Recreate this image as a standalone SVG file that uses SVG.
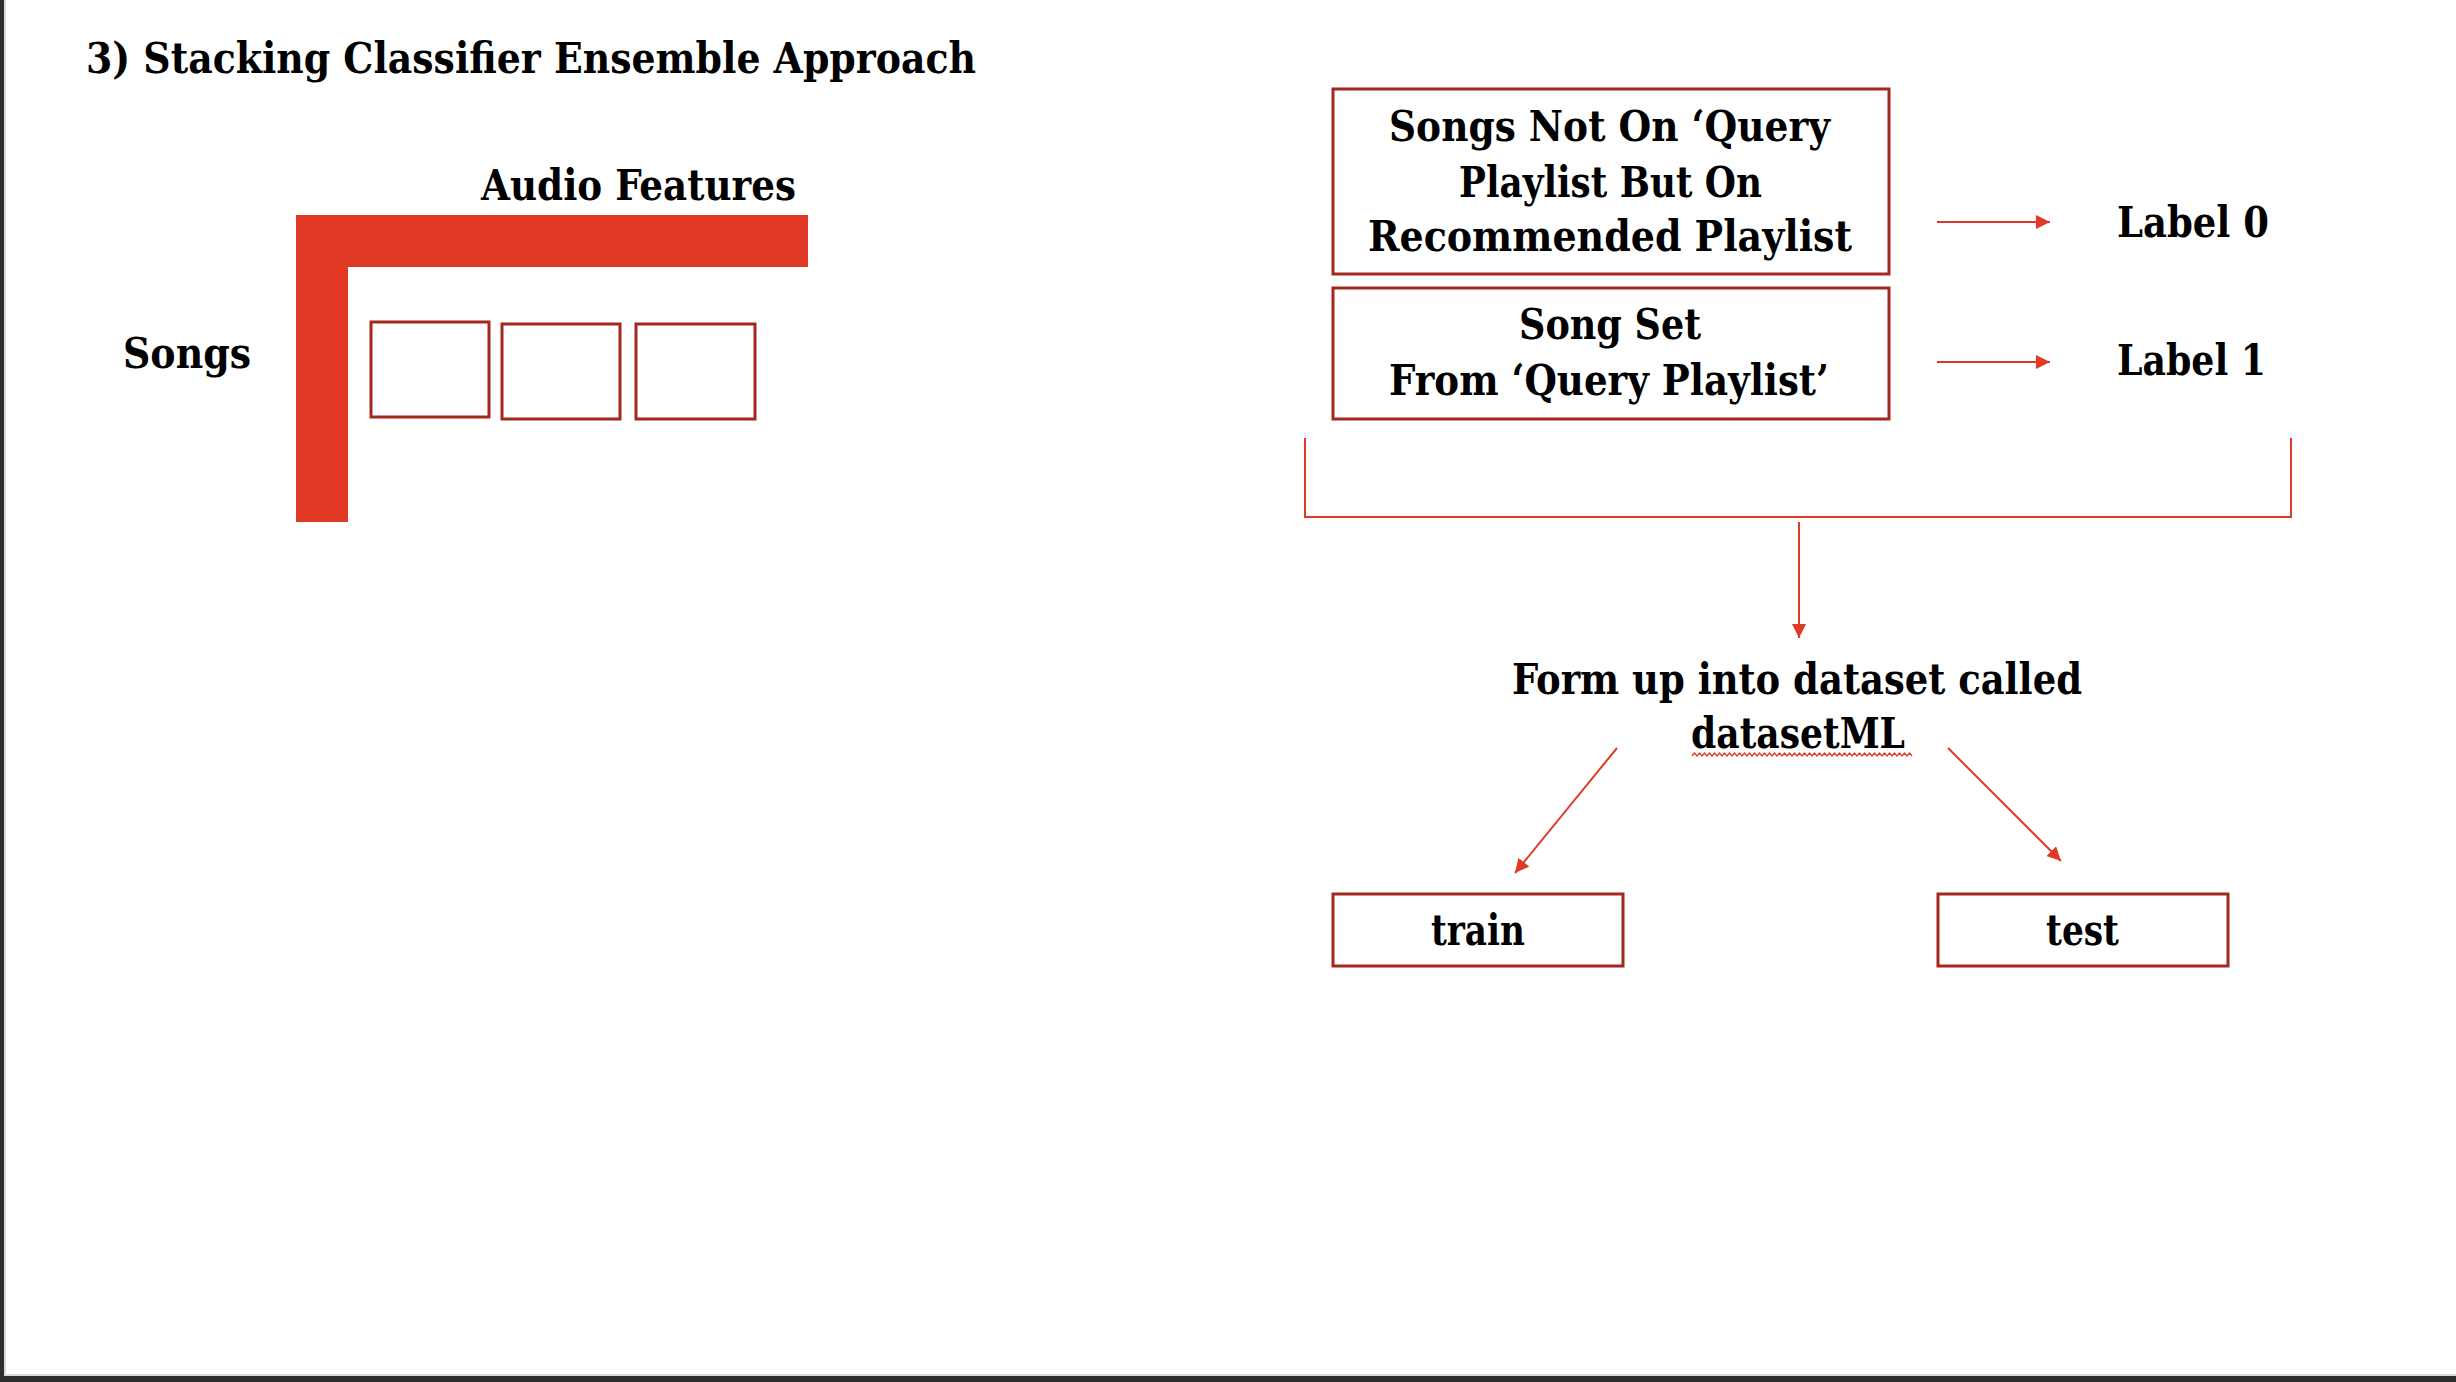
<svg xmlns="http://www.w3.org/2000/svg" width="2456" height="1382" viewBox="0 0 2456 1382">
<style>
  .t { font-family: "DejaVu Serif", "Liberation Serif", serif; font-weight: bold; font-stretch: condensed; font-size: 43px; fill: #000; }
  .box { fill: #fff; stroke: #A5281E; stroke-width: 3; }
  .conn { stroke: #E03A26; stroke-width: 2; fill: none; }
</style>
<defs>
  <marker id="ah" markerUnits="userSpaceOnUse" markerWidth="16" markerHeight="14" refX="14" refY="7" orient="auto">
    <path d="M0,0 L14,7 L0,14 Z" fill="#E03A26"/>
  </marker>
</defs>
<rect x="0" y="0" width="2456" height="1382" fill="#fff"/>
<rect x="0" y="0" width="4" height="1382" fill="#2d2d2d"/>
<rect x="0" y="1376" width="2456" height="6" fill="#2d2d2d"/>
<rect x="4" y="0" width="2" height="1376" fill="#d9d9d9"/>
<rect x="4" y="1374" width="2452" height="2" fill="#d9d9d9"/>

<text id="title" class="t" x="86" y="73" textLength="890" lengthAdjust="spacingAndGlyphs">3) Stacking Classifier Ensemble Approach</text>

<g id="matrix">
  <path d="M296,215 H808 V267 H348 V522 H296 Z" fill="#E13925"/>
  <text class="t" x="481" y="200" textLength="315" lengthAdjust="spacingAndGlyphs">Audio Features</text>
  <text class="t" x="123" y="368" textLength="128" lengthAdjust="spacingAndGlyphs">Songs</text>
  <rect class="box" x="371" y="322" width="118" height="95"/>
  <rect class="box" x="502" y="324" width="118" height="95"/>
  <rect class="box" x="636" y="324" width="119" height="95"/>
</g>

<g id="not-query">
  <rect class="box" x="1333" y="89" width="556" height="185"/>
  <text class="t" x="1389" y="141" textLength="441" lengthAdjust="spacingAndGlyphs">Songs Not On ‘Query</text>
  <text class="t" x="1459" y="197" textLength="303" lengthAdjust="spacingAndGlyphs">Playlist But On</text>
  <text class="t" x="1368" y="251" textLength="484" lengthAdjust="spacingAndGlyphs">Recommended Playlist</text>
</g>

<g id="query-set">
  <rect class="box" x="1333" y="288" width="556" height="131"/>
  <text class="t" x="1519" y="339" textLength="182" lengthAdjust="spacingAndGlyphs">Song Set</text>
  <text class="t" x="1389" y="395" textLength="440" lengthAdjust="spacingAndGlyphs">From ‘Query Playlist’</text>
</g>

<g id="label0">
  <text class="t" x="2117" y="237" textLength="152" lengthAdjust="spacingAndGlyphs">Label 0</text>
</g>
<g id="label1">
  <text class="t" x="2117" y="375" textLength="149" lengthAdjust="spacingAndGlyphs">Label 1</text>
</g>

<g id="datasetML">
  <text class="t" x="1512" y="694" textLength="570" lengthAdjust="spacingAndGlyphs">Form up into dataset called</text>
  <text class="t" x="1691" y="748" textLength="214" lengthAdjust="spacingAndGlyphs">datasetML</text>
  <path d="M1692,756 l2.5,-3 l2.5,3 l2.5,-3 l2.5,3 l2.5,-3 l2.5,3 l2.5,-3 l2.5,3 l2.5,-3 l2.5,3 l2.5,-3 l2.5,3 l2.5,-3 l2.5,3 l2.5,-3 l2.5,3 l2.5,-3 l2.5,3 l2.5,-3 l2.5,3 l2.5,-3 l2.5,3 l2.5,-3 l2.5,3 l2.5,-3 l2.5,3 l2.5,-3 l2.5,3 l2.5,-3 l2.5,3 l2.5,-3 l2.5,3 l2.5,-3 l2.5,3 l2.5,-3 l2.5,3 l2.5,-3 l2.5,3 l2.5,-3 l2.5,3 l2.5,-3 l2.5,3 l2.5,-3 l2.5,3 l2.5,-3 l2.5,3 l2.5,-3 l2.5,3 l2.5,-3 l2.5,3 l2.5,-3 l2.5,3 l2.5,-3 l2.5,3 l2.5,-3 l2.5,3 l2.5,-3 l2.5,3 l2.5,-3 l2.5,3 l2.5,-3 l2.5,3 l2.5,-3 l2.5,3 l2.5,-3 l2.5,3 l2.5,-3 l2.5,3 l2.5,-3 l2.5,3 l2.5,-3 l2.5,3 l2.5,-3 l2.5,3 l2.5,-3 l2.5,3 l2.5,-3 l2.5,3 l2.5,-3 l2.5,3 l2.5,-3 l2.5,3 l2.5,-3 l2.5,3 l2.5,-3 l2.5,3 l2.5,-3 l2.5,3" fill="none" stroke="#E03A26" stroke-width="1.2"/>
</g>

<g id="train">
  <rect class="box" x="1333" y="894" width="290" height="72"/>
  <text class="t" x="1431" y="945" textLength="94" lengthAdjust="spacingAndGlyphs">train</text>
</g>
<g id="test">
  <rect class="box" x="1938" y="894" width="290" height="72"/>
  <text class="t" x="2046" y="945" textLength="73" lengthAdjust="spacingAndGlyphs">test</text>
</g>

<g id="connectors">
  <line class="conn" x1="1937" y1="222" x2="2050" y2="222" marker-end="url(#ah)"/>
  <line class="conn" x1="1937" y1="362" x2="2050" y2="362" marker-end="url(#ah)"/>
  <path class="conn" d="M1305,438 V517 H2291 V438"/>
  <line class="conn" x1="1799" y1="522" x2="1799" y2="638" marker-end="url(#ah)"/>
  <line class="conn" x1="1617" y1="748" x2="1515" y2="873" marker-end="url(#ah)"/>
  <line class="conn" x1="1948" y1="748" x2="2061" y2="861" marker-end="url(#ah)"/>
</g>
</svg>
